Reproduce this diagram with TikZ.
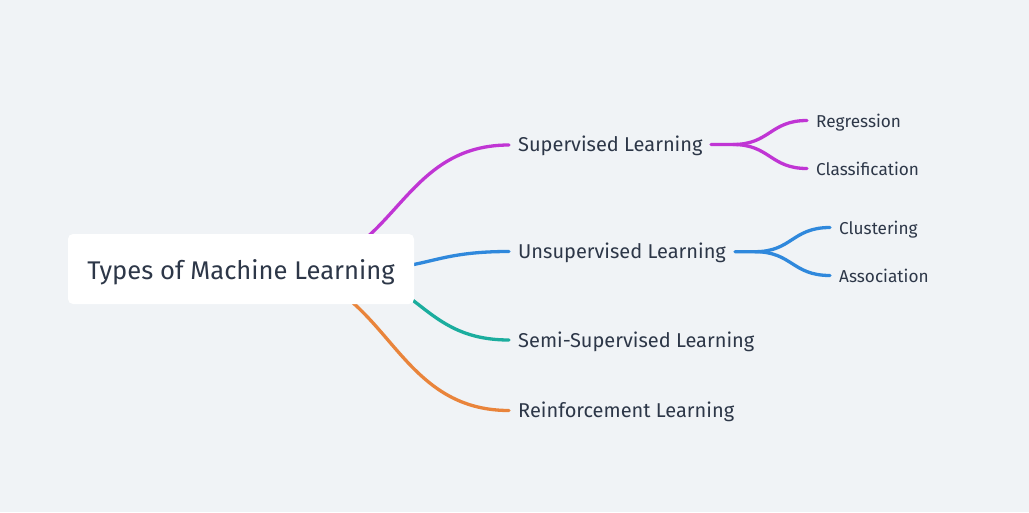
\documentclass[tikz,border=0pt]{standalone}
\usepackage{fontspec}
\setmainfont{Fira Sans}
\usetikzlibrary{calc}
\definecolor{bgc}{HTML}{F0F3F6}
\definecolor{txt}{HTML}{2D3748}
\definecolor{cmag}{HTML}{C035D4}
\definecolor{cblue}{HTML}{2F88DC}
\definecolor{cteal}{HTML}{1BAD9E}
\definecolor{corange}{HTML}{E9843B}
\tikzset{
  link/.style={line width=3.3pt, line cap=round},
  rootbox/.style={draw=none, fill=white, rounded corners=5pt, minimum width=346pt, minimum height=70pt, inner sep=0pt},
  roottext/.style={anchor=base, inner sep=0pt, text=txt, font=\fontsize{25.6}{30}\selectfont},
  lvone/.style={anchor=base west, inner sep=0pt, text=txt, font=\fontsize{20}{22}\selectfont},
  lvtwo/.style={anchor=base west, inner sep=0pt, text=txt, font=\fontsize{17.2}{19}\selectfont},
}
\begin{document}
\begin{tikzpicture}[x=1pt,y=-1pt]
\fill[bgc] (0,0) rectangle (1029,512);
\useasboundingbox (0,0) rectangle (1029,512);
% level one nodes
\node[lvone] (sup) at (518,151.5) {Supervised Learning};
\node[lvone] (uns) at (518,258.5) {Unsupervised Learning};
\node[lvone] (semi) at (518,347.5) {Semi-Supervised Learning};
\node[lvone] (rein) at (518,417.5) {Reinforcement Learning};
% level two nodes
\node[lvtwo] (reg) at (816,127.5) {Regression};
\node[lvtwo] (cla) at (816,175.5) {Classification};
\node[lvtwo] (clu) at (839,234.5) {Clustering};
\node[lvtwo] (ass) at (839,282.5) {Association};
% start points hidden under root
\coordinate (s1) at (283,270);
\coordinate (s2) at (352,270);
\coordinate (s3) at (329,270);
\coordinate (s4) at (268,270);
\coordinate (e1) at (509,145);
\coordinate (e2) at (509,251.5);
\coordinate (e3) at (509,340);
\coordinate (e4) at (509,410.5);
\draw[link, cmag] (s1) .. controls (396,270) and (396,145) .. (e1);
\draw[link, cblue] (s2) .. controls (430.5,270) and (430.5,251.5) .. (e2);
\draw[link, cteal] (s3) .. controls (419,270) and (419,340) .. (e3);
\draw[link, corange] (s4) .. controls (388,270) and (388,410.5) .. (e4);
% sub-branches
\coordinate (f1a) at (711,144.5);
\coordinate (f1) at (733,144.5);
\coordinate (g1) at (807,120.5);
\coordinate (g2) at (807,168.5);
\draw[link, cmag] (f1a) -- (f1) .. controls (770,144.5) and (770,120.5) .. (g1);
\draw[link, cmag] (f1) .. controls (770,144.5) and (770,168.5) .. (g2);
\coordinate (f2a) at (735,251.7);
\coordinate (f2) at (755,251.7);
\coordinate (h1) at (830,227.5);
\coordinate (h2) at (830,275.5);
\draw[link, cblue] (f2a) -- (f2) .. controls (792,251.7) and (792,227.5) .. (h1);
\draw[link, cblue] (f2) .. controls (792,251.7) and (792,275.5) .. (h2);
% root
\node[rootbox] (root) at (241,269) {};
\node[roottext] (roott) at (241,279) {Types of Machine Learning};
\end{tikzpicture}
\end{document}
